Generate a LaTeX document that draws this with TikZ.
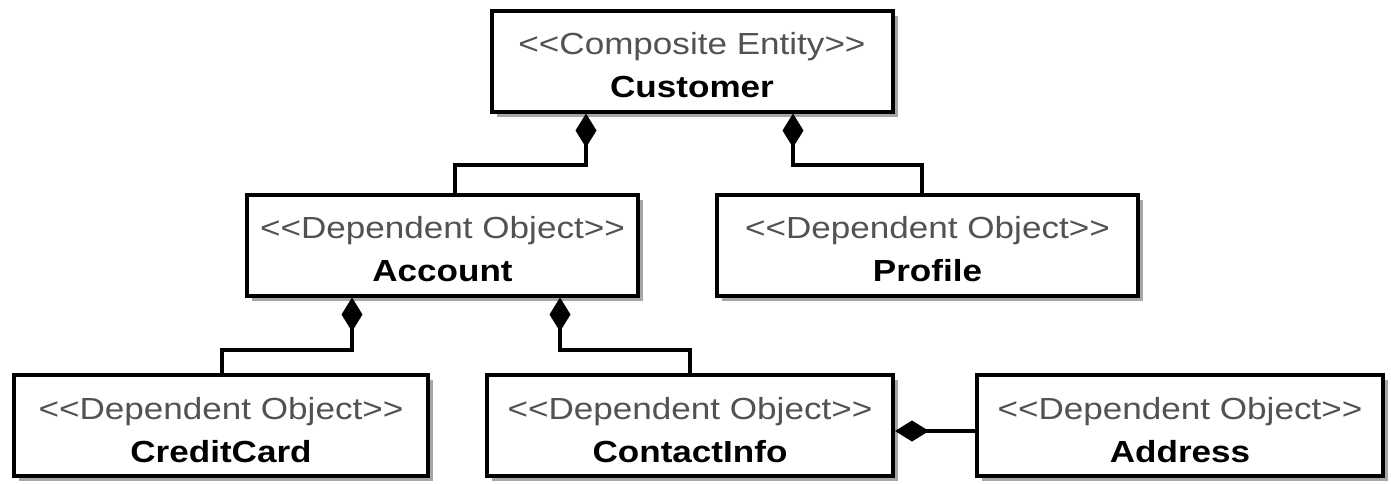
\documentclass[tikz,border=0pt]{standalone}
\usepackage{fontspec}
\setmainfont{Liberation Sans}[FakeStretch=1.15]
\usetikzlibrary{arrows.meta,shadows}
\newcommand\lsq{<\kern0pt<}
\newcommand\rsq{>\kern0pt>}
\tikzset{
  umlbox/.style={draw=black, line width=4pt, fill=white, inner sep=0pt,
    align=center, minimum height=101pt, font=\fontsize{30.5}{43}\selectfont,
    drop shadow={shadow xshift=5pt, shadow yshift=-5pt, fill=black!35, opacity=1}},
  comp/.style={line width=3.5pt, {Diamond[length=34pt,width=21pt]}-}
}
\newcommand\st[1]{\rule{0pt}{30.5pt}{\color{black!68}#1}}
\begin{document}
\begin{tikzpicture}[x=1pt,y=-1pt]
\useasboundingbox[fill=white] (0,0) rectangle (1391,483);
\node[umlbox, minimum width=401pt] (cust) at (692,61) {\st{\lsq Composite Entity\rsq}\\\textbf{Customer}};
\node[umlbox, minimum width=391pt] (acct) at (442.5,245) {\st{\lsq Dependent Object\rsq}\\\textbf{Account}};
\node[umlbox, minimum width=421pt] (prof) at (927.5,245) {\st{\lsq Dependent Object\rsq}\\\textbf{Profile}};
\node[umlbox, minimum width=414pt] (cc) at (221,425.5) {\st{\lsq Dependent Object\rsq}\\\textbf{CreditCard}};
\node[umlbox, minimum width=406pt] (ci) at (690,425.5) {\st{\lsq Dependent Object\rsq}\\\textbf{ContactInfo}};
\node[umlbox, minimum width=406pt] (addr) at (1180,425.5) {\st{\lsq Dependent Object\rsq}\\\textbf{Address}};
\coordinate (k1) at (586,165); \coordinate (k1b) at (455,165);
\coordinate (k2) at (793,165); \coordinate (k2b) at (922,165);
\coordinate (k3) at (352,350); \coordinate (k3b) at (222,350);
\coordinate (k4) at (560,350); \coordinate (k4b) at (690,350);
\coordinate (k5) at (0,431);
\draw[comp] (k1 |- cust.south) -- (k1) -- (k1b) -- (k1b |- acct.north);
\draw[comp] (k2 |- cust.south) -- (k2) -- (k2b) -- (k2b |- prof.north);
\draw[comp] (k3 |- acct.south) -- (k3) -- (k3b) -- (k3b |- cc.north);
\draw[comp] (k4 |- acct.south) -- (k4) -- (k4b) -- (k4b |- ci.north);
\draw[comp] (ci.east |- k5) -- (addr.west |- k5);
\end{tikzpicture}
\end{document}
